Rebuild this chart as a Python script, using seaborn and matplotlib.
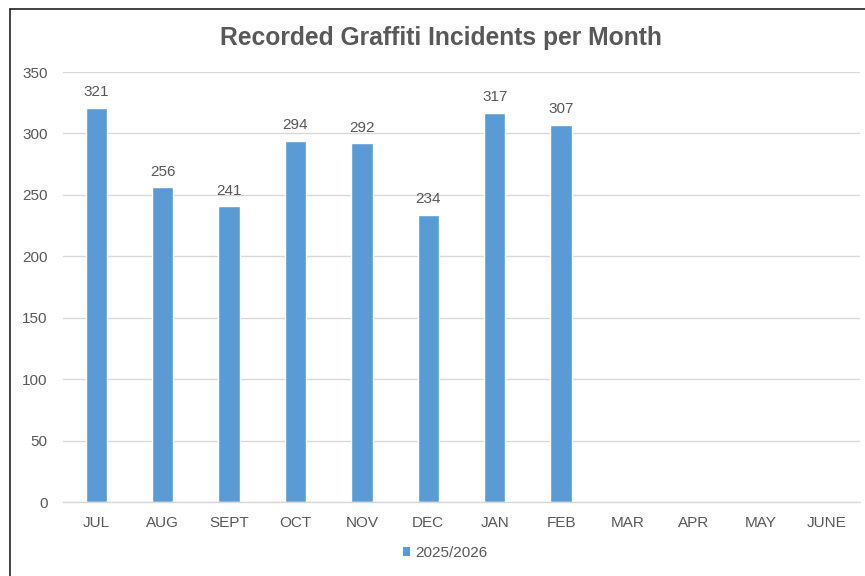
import matplotlib
matplotlib.use("Agg")
import matplotlib.pyplot as plt
import seaborn as sns
import pandas as pd
from matplotlib.lines import Line2D
from matplotlib.patches import Patch

months = ["JUL", "AUG", "SEPT", "OCT", "NOV", "DEC", "JAN", "FEB", "MAR", "APR", "MAY", "JUNE"]
values = [321, 256, 241, 294, 292, 234, 317, 307, None, None, None, None]
series_name = "2025/2026"
title = "Recorded Graffiti Incidents per Month"

sns.set_theme(style="white")
plt.rcParams["font.family"] = ["Liberation Sans", "DejaVu Sans"]

df = pd.DataFrame({"month": months, "value": values})
df["value"] = df["value"].astype(float)

W, H = 865, 576
fig = plt.figure(figsize=(W / 100, H / 100), dpi=100)
ax = fig.add_axes([63 / W, 1 - 502 / H, (860 - 63) / W, (502 - 72) / H])

bar_color = "#5B9BD5"
text_color = "#595959"
sns.barplot(data=df, x="month", y="value", order=months, color=bar_color,
            width=0.32, ax=ax, saturation=1)

ax.set_ylim(0, 350)
ax.set_xlim(-0.5, 11.5)
ax.set_yticks(range(0, 351, 50))
ax.yaxis.grid(True, color="#D9D9D9", linewidth=1)
ax.set_axisbelow(True)
for s in ["top", "right", "left"]:
    ax.spines[s].set_visible(False)
ax.spines["bottom"].set_color("#D9D9D9")
ax.spines["bottom"].set_linewidth(1)
ax.tick_params(axis="both", length=0, labelsize=11, colors=text_color)
ax.tick_params(axis="x", pad=10)
ax.tick_params(axis="y", pad=11)
ax.set_xlabel("")
ax.set_ylabel("")

for i, v in enumerate(values):
    if v is not None:
        ax.annotate(str(v), (i, v), xytext=(0, 6), textcoords="offset points",
                    ha="center", va="bottom", fontsize=11, color=text_color)

fig.text(441 / W, 1 - 38 / H, title, ha="center", va="center",
         fontsize=17.7, fontweight="bold", color=text_color)

handle = Patch(facecolor=bar_color, edgecolor="none")
fig.legend([handle], [series_name], loc="center", bbox_to_anchor=(445 / W, 1 - 553 / H),
           frameon=False, fontsize=11, handlelength=0.5, handleheight=0.5,
           handletextpad=0.3, labelcolor=text_color)

# outer chart border (left and top)
fig.add_artist(Line2D([10 / W, 10 / W], [0, 1 - 9 / H], transform=fig.transFigure,
                      color="#222222", linewidth=1.2))
fig.add_artist(Line2D([10 / W, 1], [1 - 9 / H, 1 - 9 / H], transform=fig.transFigure,
                      color="#222222", linewidth=1.2))

fig.savefig("out.png", dpi=100)
